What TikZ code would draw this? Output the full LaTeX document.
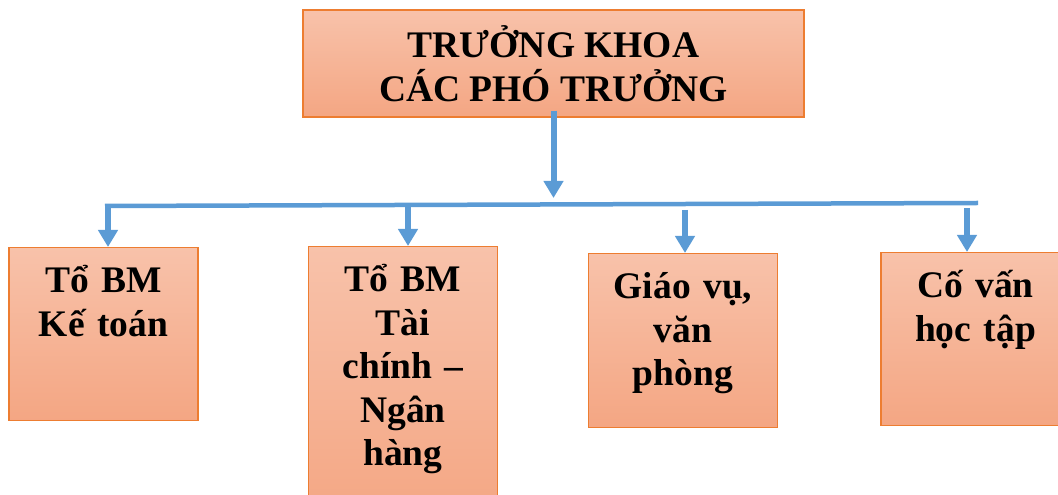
\documentclass[tikz,border=0pt]{standalone}
\usepackage{fontspec}
\setmainfont{Liberation Serif}
\usetikzlibrary{arrows.meta}
\definecolor{unitorange}{HTML}{ED7D31}
\definecolor{unittop}{HTML}{F8C2AA}
\definecolor{unitbot}{HTML}{F4A683}
\definecolor{linkblue}{HTML}{5B9BD5}

\begin{document}
\begin{tikzpicture}[x=1pt,y=1pt,
  unit/.style={draw=unitorange,line width=1.5pt,top color=unittop,bottom color=unitbot,
    inner sep=0pt,align=center,font=\bfseries\fontsize{37.5}{43.5}\selectfont},
  dept/.style={unit,anchor=north,text width=180pt,minimum width=189pt,text height=45pt},
  bus/.style={linkblue,line width=4.5pt},
  link/.style={linkblue,line width=6pt,-{Triangle[width=19pt,length=17pt]}}]
  \clip (0,0) rectangle (1058,495);

  % faculty leadership
  \node[unit,minimum width=501pt,minimum height=107pt] (dean) at (553.5,431.5)
    {TRƯỞNG KHOA\\CÁC PHÓ TRƯỞNG};

  % departments
  \node[dept,text depth=128pt] (ketoan) at (103.5,248) {Tổ BM\\Kế toán};
  \node[dept,text depth=231pt] (taichinh) at (403,249) {Tổ BM\\Tài\\chính –\\Ngân\\hàng};
  \node[dept,text depth=129pt] (giaovu) at (683,242) {Giáo vụ,\\văn\\phòng};
  \node[dept,text depth=128pt] (covan) at (975.5,243) {Cố vấn\\học tập};

  % distribution line
  \coordinate (busL) at (105,289);
  \coordinate (busR) at (978,292);
  \coordinate (hub) at (553.5,297);
  \draw[bus] (busL) -- (busR);
  \draw[link] ([yshift=7pt]dean.south) -- (hub);

  % branches
  \coordinate (t1) at (108,289);
  \coordinate (t2) at (408,289);
  \coordinate (t3) at (685,285);
  \coordinate (t4) at (967,287);
  \draw[link] (t1) -- (t1 |- ketoan.north);
  \draw[link] (t2) -- (t2 |- taichinh.north);
  \draw[link] (t3) -- (t3 |- giaovu.north);
  \draw[link] (t4) -- (t4 |- covan.north);
\end{tikzpicture}
\end{document}
